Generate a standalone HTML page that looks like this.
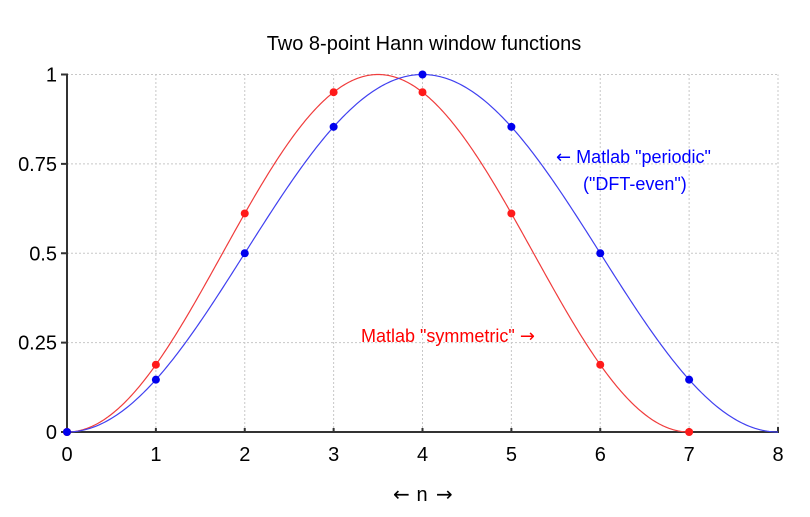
<!DOCTYPE html>
<html><head><meta charset="utf-8"><style>
body{margin:0;background:#fff;width:810px;height:512px;overflow:hidden}
text{font-family:"Liberation Sans",Arial,sans-serif}
.ar{font-family:"DejaVu Sans",sans-serif}
</style></head><body>
<svg id="s" width="810" height="512" viewBox="0 0 810 512" xmlns="http://www.w3.org/2000/svg">
<text x="424" y="50" font-size="20" text-anchor="middle" fill="#000">Two 8-point Hann window functions</text>
<g id="grid" stroke="#c8c8c8" stroke-width="1" stroke-dasharray="2,2"></g>
<g id="ax" stroke="#333" stroke-width="2" fill="none"></g>
<g id="lbl" font-size="20" fill="#000"></g>
<path id="red" fill="none" stroke="#f03c3c" stroke-width="1.2"/>
<path id="blue" fill="none" stroke="#4040f0" stroke-width="1.2"/>
<g id="dots"></g>
<text x="556" y="163" font-size="18" fill="#0000ff"><tspan class="ar">←</tspan> Matlab "periodic"</text>
<text x="583" y="190" font-size="18" fill="#0000ff">("DFT-even")</text>
<text x="361" y="342" font-size="18" fill="#ff0000">Matlab "symmetric" <tspan class="ar">→</tspan></text>
<text x="393" y="501" font-size="20" class="ar" fill="#000">←</text>
<text x="422" y="501" font-size="20" text-anchor="middle" fill="#000">n</text>
<text x="436" y="501" font-size="20" class="ar" fill="#000">→</text>
</svg>
<script>
var X0=67,DX=88.875,Y0=432,DY=357.5,ns="http://www.w3.org/2000/svg";
function X(n){return X0+n*DX}function Y(v){return Y0-v*DY}
function el(t,a,p){var e=document.createElementNS(ns,t);for(var k in a)e.setAttribute(k,a[k]);document.getElementById(p).appendChild(e);return e}
for(var i=1;i<=8;i++)el("line",{x1:X(i),y1:Y0,x2:X(i),y2:Y(1)},"grid");
[0.25,0.5,0.75,1].forEach(function(v){el("line",{x1:X0,y1:Y(v),x2:X(8),y2:Y(v)},"grid")});
el("path",{d:"M"+(X0-6)+" "+Y(1)+"H"+X0+"V"+Y0+"H"+X(8)+"V"+(Y0-5)},"ax");
for(var i=0;i<=8;i++){el("path",{d:"M"+X(i)+" "+Y0+"v-4"},"ax");var t=el("text",{x:X(i),y:Y0+29,"text-anchor":"middle"},"lbl");t.textContent=i}
[[0,"0"],[0.25,"0.25"],[0.5,"0.5"],[0.75,"0.75"],[1,"1"]].forEach(function(a){el("path",{d:"M"+(X0-6)+" "+Y(a[0])+"H"+X0},"ax");var t=el("text",{x:X0-10,y:Y(a[0])+7,"text-anchor":"end"},"lbl");t.textContent=a[1]});
function path(N,L){var d="";for(var k=0;k<=400;k++){var n=L*k/400;var v=0.5*(1-Math.cos(2*Math.PI*n/N));d+=(k?"L":"M")+X(n).toFixed(2)+" "+Y(v).toFixed(2)}return d}
document.getElementById("red").setAttribute("d",path(7,7));
document.getElementById("blue").setAttribute("d",path(8,8));
for(var n=0;n<8;n++){el("circle",{cx:X(n),cy:Y(0.5*(1-Math.cos(2*Math.PI*n/7))),r:4,fill:"#ff1a1a"},"dots")}
for(var n=0;n<8;n++){el("circle",{cx:X(n),cy:Y(0.5*(1-Math.cos(2*Math.PI*n/8))),r:4,fill:"#0000ee"},"dots")}
</script>
</body></html>
